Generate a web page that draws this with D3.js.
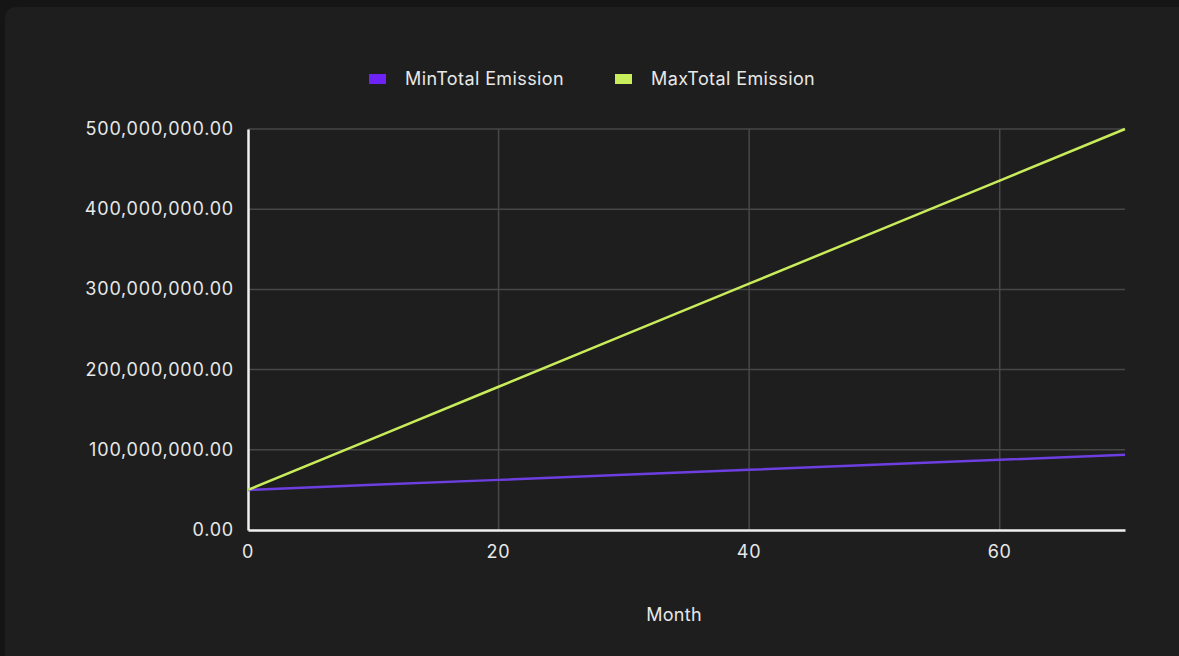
<!DOCTYPE html>
<html>
<head>
<meta charset="utf-8">
<script src="https://cdn.jsdelivr.net/npm/d3@7"></script>
<style>
  html, body { margin: 0; padding: 0; background: #151515; }
  svg { display: block; }
</style>
</head>
<body>
<svg id="chart" width="1179" height="656"></svg>
<script>
// months
const months = [0, 10, 20, 30, 40, 50, 60, 70];
const minTotal = [50e6, 56.3e6, 62.5e6, 68.8e6, 75e6, 81.3e6, 87.5e6, 93.8e6];
const maxTotal = [50e6, 114.3e6, 178.6e6, 242.9e6, 307.1e6, 371.4e6, 435.7e6, 500e6];
const seriesNames = ["MinTotal Emission", "MaxTotal Emission"];
const xTicks = [0, 20, 40, 60];
const yTicks = [0, 100e6, 200e6, 300e6, 400e6, 500e6];

const colors = { min: "#6d3ee0", max: "#c9ec5b", minKey: "#6e22f5", maxKey: "#c8ee5c" };

const svg = d3.select("#chart");
const width = 1179, height = 656;
const margin = {top: 129, right: 54, bottom: 126, left: 248};
const innerWidth = width - margin.left - margin.right;
const innerHeight = height - margin.top - margin.bottom;
const font = "Inter, 'Open Sans', sans-serif";

// card (runs off the right and bottom edges)
svg.append("path")
  .attr("d", `M5,${7 + 12} Q5,7 ${5 + 12},7 H${width} V${height} H5 Z`)
  .attr("fill", "#1e1e1e");

const xScale = d3.scaleLinear().domain([0, 70]).range([0, innerWidth]);
const yScale = d3.scaleLinear().domain([0, 500e6]).range([innerHeight, 0]);

const g = svg.append("g")
  .attr("transform", `translate(${margin.left}, ${margin.top})`);

// grid
g.append("g").selectAll("line")
  .data(yTicks.slice(1))
  .enter().append("line")
    .attr("x1", 0).attr("x2", innerWidth)
    .attr("y1", d => yScale(d)).attr("y2", d => yScale(d))
    .attr("stroke", "#474747").attr("stroke-width", 1.5);
g.append("g").selectAll("line")
  .data(xTicks.slice(1))
  .enter().append("line")
    .attr("x1", d => xScale(d)).attr("x2", d => xScale(d))
    .attr("y1", 0).attr("y2", innerHeight)
    .attr("stroke", "#474747").attr("stroke-width", 1.5);

// axes: d3 draws the domain lines, labels are placed with the same scales
const fmt = d3.format(",.2f");
const yAxis = g.append("g")
  .call(d3.axisLeft(yScale).tickValues([]).tickSize(0));
const xAxis = g.append("g")
  .attr("transform", `translate(0,${innerHeight})`)
  .call(d3.axisBottom(xScale).tickValues([]).tickSize(0));
[yAxis, xAxis].forEach(a => {
  a.select(".domain").attr("stroke", "#f0f0f0").attr("stroke-width", 2.5);
});

g.append("g").selectAll("text")
  .data(yTicks)
  .enter().append("text")
    .attr("x", -14)
    .attr("y", d => yScale(d) + 6)
    .attr("text-anchor", "end")
    .attr("fill", "#e8e8e8")
    .attr("font-family", font).attr("font-size", 18)
    .attr("letter-spacing", 0.8)
    .text(fmt);

g.append("g").selectAll("text")
  .data(xTicks)
  .enter().append("text")
    .attr("x", d => xScale(d))
    .attr("y", innerHeight + 28)
    .attr("text-anchor", "middle")
    .attr("fill", "#e8e8e8")
    .attr("font-family", font).attr("font-size", 18)
    .attr("letter-spacing", 0.8)
    .text(d3.format("d"));

// lines
const rows = months.map((m, i) => ({m, min: minTotal[i], max: maxTotal[i]}));
const lineMin = d3.line().x(d => xScale(d.m)).y(d => yScale(d.min));
const lineMax = d3.line().x(d => xScale(d.m)).y(d => yScale(d.max));

g.append("path").datum(rows)
  .attr("d", lineMin).attr("fill", "none")
  .attr("stroke", colors.min).attr("stroke-width", 2.5);
g.append("path").datum(rows)
  .attr("d", lineMax).attr("fill", "none")
  .attr("stroke", colors.max).attr("stroke-width", 2.5);

// axis title
svg.append("text")
  .attr("x", 674).attr("y", 621)
  .attr("text-anchor", "middle")
  .attr("fill", "#e8e8e8")
  .attr("font-family", font).attr("font-size", 18)
  .attr("letter-spacing", 0.3)
  .text("Month");

// legend
const legendX = [369, 615];
const keyCols = [colors.minKey, colors.maxKey];
const legend = svg.append("g");
seriesNames.forEach((name, i) => {
  legend.append("rect")
    .attr("x", legendX[i]).attr("y", 74)
    .attr("width", 17).attr("height", 10)
    .attr("fill", keyCols[i]);
  legend.append("text")
    .attr("x", legendX[i] + 36).attr("y", 85)
    .attr("fill", "#e8e8e8")
    .attr("font-family", font).attr("font-size", 18)
    .attr("letter-spacing", 0.4)
    .text(name);
});
</script>
</body>
</html>
